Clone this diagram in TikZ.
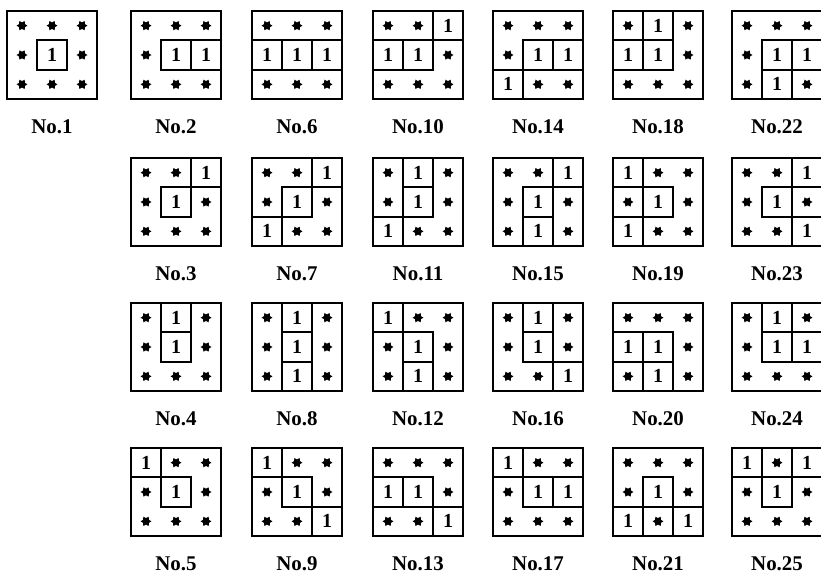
\documentclass[tikz,border=0pt]{standalone}
\usepackage{fontspec}
\setmainfont{Liberation Serif}
\usetikzlibrary{shapes.geometric}
\newcommand{\gridpanel}[4]{%
  \begin{scope}[shift={(#1,-#2)}]
    \draw[frame] (0,0) rectangle (90,-88);
    \foreach \v [count=\i from 0] in {#4} {
      \pgfmathtruncatemacro{\cx}{mod(\i,3)}
      \pgfmathtruncatemacro{\cy}{div(\i,3)}
      \pgfmathsetmacro{\px}{30*\cx}
      \pgfmathsetmacro{\py}{-88/3*\cy}
      \ifnum\v=1
        \draw[cellbox] (\px,\py) rectangle ++(30,-88/3);
        \node[one] (n#3c\i) at (\px+15,\py-44/3) {1};
      \else
        \node[dot] (n#3c\i) at (\px+15,\py-44/3) {};
      \fi
    }
    \node[lab] (lab#3) at (45,-116) {No.#3};
  \end{scope}}
\begin{document}
\begin{tikzpicture}[x=1bp,y=1bp,
  frame/.style={line width=2.2bp},
  cellbox/.style={line width=1.7bp},
  one/.style={font=\fontsize{20}{20}\selectfont\bfseries, inner sep=0},
  dot/.style={star, star points=6, star point ratio=0.6, fill=black, draw=none, inner sep=0, minimum size=6.5bp},
  lab/.style={font=\fontsize{21}{21}\selectfont\bfseries, inner sep=0}]
\useasboundingbox (0,0) rectangle (821,-574);
% row 1
\gridpanel{7}{11}{1}{0,0,0,0,1,0,0,0,0}
\gridpanel{131}{11}{2}{0,0,0,0,1,1,0,0,0}
\gridpanel{252}{11}{6}{0,0,0,1,1,1,0,0,0}
\gridpanel{373}{11}{10}{0,0,1,1,1,0,0,0,0}
\gridpanel{493}{11}{14}{0,0,0,0,1,1,1,0,0}
\gridpanel{613}{11}{18}{0,1,0,1,1,0,0,0,0}
\gridpanel{732}{11}{22}{0,0,0,0,1,1,0,1,0}
% row 2
\gridpanel{131}{158}{3}{0,0,1,0,1,0,0,0,0}
\gridpanel{252}{158}{7}{0,0,1,0,1,0,1,0,0}
\gridpanel{373}{158}{11}{0,1,0,0,1,0,1,0,0}
\gridpanel{493}{158}{15}{0,0,1,0,1,0,0,1,0}
\gridpanel{613}{158}{19}{1,0,0,0,1,0,1,0,0}
\gridpanel{732}{158}{23}{0,0,1,0,1,0,0,0,1}
% row 3
\gridpanel{131}{303}{4}{0,1,0,0,1,0,0,0,0}
\gridpanel{252}{303}{8}{0,1,0,0,1,0,0,1,0}
\gridpanel{373}{303}{12}{1,0,0,0,1,0,0,1,0}
\gridpanel{493}{303}{16}{0,1,0,0,1,0,0,0,1}
\gridpanel{613}{303}{20}{0,0,0,1,1,0,0,1,0}
\gridpanel{732}{303}{24}{0,1,0,0,1,1,0,0,0}
% row 4
\gridpanel{131}{448}{5}{1,0,0,0,1,0,0,0,0}
\gridpanel{252}{448}{9}{1,0,0,0,1,0,0,0,1}
\gridpanel{373}{448}{13}{0,0,0,1,1,0,0,0,1}
\gridpanel{493}{448}{17}{1,0,0,0,1,1,0,0,0}
\gridpanel{613}{448}{21}{0,0,0,0,1,0,1,0,1}
\gridpanel{732}{448}{25}{1,0,1,0,1,0,0,0,0}
\end{tikzpicture}
\end{document}
